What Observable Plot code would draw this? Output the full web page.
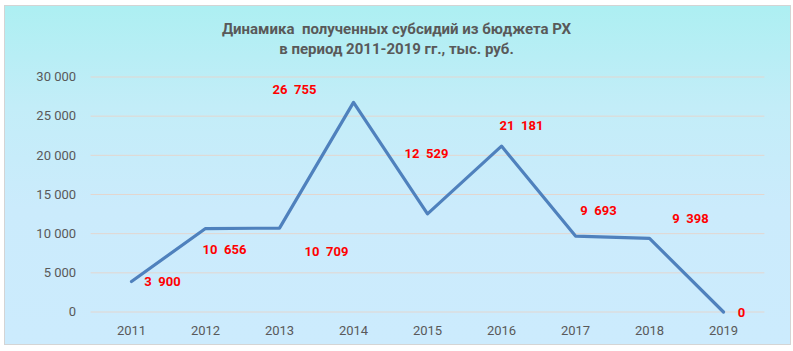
<!DOCTYPE html>
<html>
<head>
<meta charset="utf-8">
<script src="https://cdn.jsdelivr.net/npm/d3@7"></script>
<script src="https://cdn.jsdelivr.net/npm/@observablehq/plot@0.6"></script>
<style>
  html, body { margin: 0; padding: 0; background: #ffffff; }
  #wrap { position: relative; width: 793px; height: 351px; overflow: hidden; }
  #bg { position: absolute; left: 4px; top: 5px; width: 785px; height: 338px;
        border: 1px solid #d4d4d4;
        background: linear-gradient(to bottom, #adeff2 0%, #c3edf8 30%, #cbebfc 60%, #ccebfd 100%); }
  #title { position: absolute; left: 0; top: 19px; width: 793px; text-align: center;
           font-family: Roboto, "Open Sans", sans-serif; font-weight: bold; font-size: 15px;
           line-height: 20px; color: #595959; }
  #plot { position: absolute; left: 0; top: 62px; }
</style>
</head>
<body>
<div id="wrap">
  <div id="bg"></div>
  <div id="title">Динамика&nbsp; полученных субсидий из бюджета РХ<br>в период 2011-2019 гг., тыс. руб.</div>
  <div id="plot"></div>
</div>
<script>
// Data
const years = ["2011","2012","2013","2014","2015","2016","2017","2018","2019"];
const values = [3900, 10656, 10709, 26755, 12529, 21181, 9693, 9398, 0];
const yTicks = [0, 5000, 10000, 15000, 20000, 25000, 30000];

// Label placement offsets (px), styling only
const labelDx = [31, 19, 47, -59, -1, 20, 23, 41, 18];
const labelDy = [0, 21, 24, -13, -60, -20, -25, -20, 1];

const rows = years.map((y, i) => ({year: y, value: values[i]}));
const fmt = d3.formatLocale({decimal: ",", thousands: " ", grouping: [3], currency: ["", ""]}).format(",d");
const fmtLabel = d3.formatLocale({decimal: ",", thousands: "\u2002", grouping: [3], currency: ["", ""]}).format(",d");

const labelMarks = rows.map((r, i) => Plot.text([r], {
  x: "year", y: "value", text: d => fmtLabel(d.value),
  dx: labelDx[i], dy: labelDy[i],
  fill: "#ff0000", fontWeight: "bold", fontSize: 13,
  fontFamily: "Roboto, sans-serif"
}));

const chart = Plot.plot({
  width: 793,
  height: 289,
  marginLeft: 90.6,
  marginRight: 28.6,
  marginTop: 14.5,
  marginBottom: 39.5,
  style: {background: "transparent", fontFamily: "Roboto, sans-serif", fontSize: "13px", color: "#595959", overflow: "visible"},
  x: {type: "point", domain: years, padding: 0.5, label: null},
  y: {domain: [0, 30000], label: null},
  marks: [
    Plot.ruleY(yTicks, {stroke: "#e3d6cf", strokeWidth: 1}),
    Plot.axisY({ticks: yTicks, tickFormat: fmt, tickSize: 0, tickPadding: 15, label: null, fill: "#595959", fontSize: 13}),
    Plot.axisX({tickSize: 0, tickPadding: 14, label: null, fill: "#595959", fontSize: 13}),
    Plot.line(rows, {x: "year", y: "value", stroke: "#4f81bd", strokeWidth: 3.2, strokeLinejoin: "round"}),
    ...labelMarks
  ]
});
document.getElementById("plot").appendChild(chart);
</script>
</body>
</html>
